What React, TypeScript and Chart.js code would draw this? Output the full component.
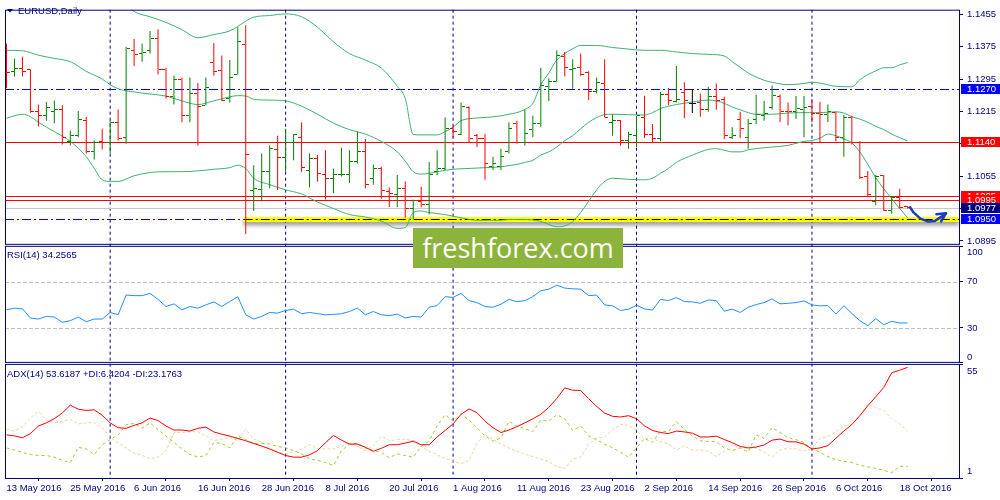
import React, { useEffect, useRef } from 'react';
import { Chart, registerables } from 'chart.js';

Chart.register(...registerables);

const NAVY = '#000080';
const FONT = '"Liberation Sans", Arial, sans-serif';
const UP = '#008000';
const DOWN = '#ff0000';
const BB = '#3cb371';

// ---------- price bars (EURUSD daily) ----------
const opens = [
  1.1375, 1.1314, 1.1322, 1.1318, 1.1216, 1.1204, 1.1214, 1.1219, 1.1141, 1.1155,
  1.1193, 1.1115, 1.1141, 1.1139, 1.1188, 1.1151, 1.1365, 1.1358, 1.1366, 1.1396,
  1.1318, 1.1253, 1.1293, 1.1206, 1.1259, 1.1230, 1.1336, 1.1316, 1.1247, 1.1306,
  1.1380, 1.1020, 1.1021, 1.1066, 1.1121, 1.1100, 1.1139, 1.1151, 1.1068, 1.1099,
  1.1059, 1.1050, 1.1058, 1.1060, 1.1090, 1.1116, 1.1048, 1.1074, 1.1017, 1.1009,
  1.1025, 1.0975, 1.0993, 1.0985, 1.1066, 1.1074, 1.1173, 1.1159, 1.1224, 1.1155,
  1.1149, 1.1078, 1.1078, 1.1115, 1.1184, 1.1137, 1.1170, 1.1184, 1.1277, 1.1289,
  1.1350, 1.1318, 1.1323, 1.1310, 1.1265, 1.1285, 1.1188, 1.1192, 1.1143, 1.1155,
  1.1200, 1.1159, 1.1147, 1.1257, 1.1239, 1.1262, 1.1235, 1.1237, 1.1219, 1.1251,
  1.1245, 1.1150, 1.1196, 1.1151, 1.1196, 1.1204, 1.1224, 1.1251, 1.1216, 1.1214,
  1.1220, 1.1228, 1.1211, 1.1208, 1.1212, 1.1151, 1.1200, 1.1139, 1.1055, 1.0993,
  1.1056, 1.0970, 1.1001, 1.0981,
];
const highs = [
  1.1383, 1.1346, 1.1350, 1.1319, 1.1232, 1.1238, 1.1242, 1.1230, 1.1167, 1.1216,
  1.1202, 1.1143, 1.1172, 1.1193, 1.1220, 1.1375, 1.1394, 1.1383, 1.1414, 1.1418,
  1.1323, 1.1304, 1.1299, 1.1299, 1.1285, 1.1299, 1.1384, 1.1353, 1.1342, 1.1423,
  1.1428, 1.1082, 1.1111, 1.1131, 1.1155, 1.1172, 1.1159, 1.1188, 1.1111, 1.1107,
  1.1119, 1.1074, 1.1125, 1.1119, 1.1165, 1.1147, 1.1084, 1.1078, 1.1027, 1.1058,
  1.1042, 1.0997, 1.1029, 1.1090, 1.1119, 1.1200, 1.1180, 1.1237, 1.1228, 1.1159,
  1.1159, 1.1103, 1.1123, 1.1188, 1.1192, 1.1220, 1.1204, 1.1323, 1.1297, 1.1366,
  1.1362, 1.1344, 1.1358, 1.1314, 1.1299, 1.1344, 1.1208, 1.1194, 1.1165, 1.1204,
  1.1254, 1.1184, 1.1263, 1.1273, 1.1327, 1.1287, 1.1269, 1.1259, 1.1276, 1.1284,
  1.1251, 1.1176, 1.1214, 1.1196, 1.1257, 1.1241, 1.1279, 1.1257, 1.1237, 1.1253,
  1.1253, 1.1245, 1.1238, 1.1232, 1.1214, 1.1206, 1.1204, 1.1141, 1.1068, 1.1058,
  1.1058, 1.1005, 1.1024, 1.0981,
];
const lows = [
  1.1273, 1.1301, 1.1301, 1.1212, 1.1178, 1.1192, 1.1186, 1.1133, 1.1131, 1.1151,
  1.1111, 1.1096, 1.1121, 1.1111, 1.1143, 1.1135, 1.1327, 1.1338, 1.1358, 1.1306,
  1.1247, 1.1232, 1.1188, 1.1188, 1.1131, 1.1230, 1.1303, 1.1241, 1.1237, 1.1306,
  1.0912, 1.0969, 1.0993, 1.1025, 1.1021, 1.1066, 1.1094, 1.1066, 1.1027, 1.1042,
  1.0997, 1.1013, 1.1054, 1.1038, 1.1086, 1.1025, 1.1034, 1.0999, 1.0979, 1.0978,
  1.0952, 1.0948, 1.0978, 1.0960, 1.1058, 1.1070, 1.1150, 1.1157, 1.1139, 1.1127,
  1.1046, 1.1070, 1.1070, 1.1111, 1.1135, 1.1131, 1.1151, 1.1176, 1.1241, 1.1287,
  1.1301, 1.1271, 1.1303, 1.1243, 1.1259, 1.1200, 1.1155, 1.1131, 1.1123, 1.1127,
  1.1149, 1.1139, 1.1141, 1.1230, 1.1237, 1.1198, 1.1211, 1.1202, 1.1214, 1.1219,
  1.1147, 1.1147, 1.1149, 1.1123, 1.1184, 1.1192, 1.1220, 1.1189, 1.1181, 1.1196,
  1.1151, 1.1188, 1.1139, 1.1189, 1.1141, 1.1103, 1.1133, 1.1048, 1.1003, 1.0983,
  1.0969, 1.0962, 1.0975, 1.0975,
];
const closes = [
  1.1310, 1.1322, 1.1314, 1.1216, 1.1204, 1.1224, 1.1220, 1.1150, 1.1155, 1.1194,
  1.1115, 1.1139, 1.1137, 1.1188, 1.1149, 1.1370, 1.1356, 1.1360, 1.1396, 1.1318,
  1.1253, 1.1293, 1.1206, 1.1259, 1.1227, 1.1275, 1.1314, 1.1241, 1.1300, 1.1387,
  1.1108, 1.1025, 1.1066, 1.1123, 1.1100, 1.1137, 1.1157, 1.1077, 1.1099, 1.1062,
  1.1050, 1.1059, 1.1060, 1.1090, 1.1116, 1.1035, 1.1074, 1.1019, 1.1011, 1.1025,
  1.0975, 1.0995, 1.0985, 1.1058, 1.1074, 1.1173, 1.1165, 1.1226, 1.1147, 1.1149,
  1.1086, 1.1086, 1.1103, 1.1173, 1.1137, 1.1161, 1.1184, 1.1279, 1.1289, 1.1354,
  1.1324, 1.1322, 1.1306, 1.1265, 1.1287, 1.1200, 1.1192, 1.1143, 1.1159, 1.1204,
  1.1159, 1.1147, 1.1257, 1.1241, 1.1245, 1.1241, 1.1235, 1.1220, 1.1251, 1.1243,
  1.1155, 1.1156, 1.1173, 1.1186, 1.1208, 1.1211, 1.1254, 1.1214, 1.1214, 1.1222,
  1.1224, 1.1211, 1.1208, 1.1214, 1.1151, 1.1200, 1.1139, 1.1051, 1.1010, 1.1054,
  1.0970, 1.1001, 1.0978, 1.0977,
];

// ---------- Bollinger bands (bar index, price) ----------
const bbUpper: [number, number][] = [
  [0, 1.1534], [2, 1.1522], [4, 1.1520], [6, 1.1527], [8, 1.1535], [10, 1.1525], [12, 1.1544],
  [13, 1.1520], [14, 1.1500], [16, 1.1462], [18, 1.1449], [20, 1.1435], [22, 1.1417], [24, 1.1397],
  [26, 1.1405], [28, 1.1414], [29, 1.1425], [30, 1.1438], [31, 1.1448], [33, 1.1452], [35, 1.1456],
  [37, 1.1449], [39, 1.1423], [41, 1.1387], [43, 1.1358], [45, 1.1342], [47, 1.1322], [49, 1.1277],
  [50, 1.1247], [51, 1.1158], [52, 1.1157], [54, 1.1157], [55, 1.1165], [56, 1.1176], [57, 1.1192],
  [58, 1.1197], [60, 1.1200], [62, 1.1204], [63, 1.1208], [64, 1.1212], [65, 1.1220], [66, 1.1235],
  [67, 1.1281], [68, 1.1310], [69, 1.1342], [70, 1.1358], [71, 1.1370], [72, 1.1378], [74, 1.1378],
  [76, 1.1373], [78, 1.1369], [80, 1.1366], [82, 1.1366], [84, 1.1362], [86, 1.1358], [88, 1.1356],
  [90, 1.1352], [91, 1.1338], [92, 1.1324], [93, 1.1310], [94, 1.1300], [95, 1.1292], [96, 1.1287],
  [98, 1.1281], [100, 1.1284], [101, 1.1287], [102, 1.1285], [104, 1.1277], [106, 1.1276],
  [107, 1.1293], [108, 1.1306], [109, 1.1315], [110, 1.1323], [111, 1.1323], [112, 1.1330], [113, 1.1336],
];
const bbMiddle: [number, number][] = [
  [0, 1.1366], [2, 1.1365], [4, 1.1354], [6, 1.1346], [8, 1.1338], [10, 1.1314], [12, 1.1295],
  [13, 1.1281], [14, 1.1271], [16, 1.1263], [18, 1.1258], [20, 1.1253], [22, 1.1241], [24, 1.1232],
  [26, 1.1241], [28, 1.1251], [29, 1.1254], [30, 1.1253], [31, 1.1245], [33, 1.1243], [35, 1.1241],
  [37, 1.1228], [39, 1.1208], [41, 1.1186], [43, 1.1170], [45, 1.1159], [47, 1.1141], [49, 1.1115],
  [50, 1.1092], [51, 1.1066], [52, 1.1060], [53, 1.1062], [54, 1.1066], [56, 1.1072], [58, 1.1074],
  [60, 1.1076], [62, 1.1078], [63, 1.1081], [64, 1.1084], [65, 1.1089], [66, 1.1094], [67, 1.1107],
  [68, 1.1115], [69, 1.1127], [70, 1.1143], [71, 1.1155], [72, 1.1172], [73, 1.1188], [74, 1.1200],
  [75, 1.1207], [76, 1.1208], [78, 1.1207], [80, 1.1206], [81, 1.1212], [82, 1.1222], [84, 1.1232],
  [86, 1.1238], [88, 1.1243], [89, 1.1241], [90, 1.1235], [91, 1.1226], [92, 1.1219], [93, 1.1212],
  [94, 1.1208], [96, 1.1208], [98, 1.1211], [100, 1.1212], [102, 1.1212], [104, 1.1214], [105, 1.1211],
  [106, 1.1202], [107, 1.1196], [108, 1.1188], [109, 1.1178], [110, 1.1170], [111, 1.1159],
  [112, 1.1150], [113, 1.1142],
];
const bbLower: [number, number][] = [
  [0, 1.1198], [2, 1.1208], [3, 1.1202], [4, 1.1188], [6, 1.1165], [8, 1.1141], [10, 1.1103],
  [11, 1.1074], [12, 1.1046], [13, 1.1042], [14, 1.1042], [16, 1.1056], [18, 1.1064], [20, 1.1066],
  [22, 1.1066], [24, 1.1068], [26, 1.1072], [28, 1.1076], [29, 1.1082], [30, 1.1074], [31, 1.1050],
  [33, 1.1034], [35, 1.1021], [37, 1.1011], [39, 1.0991], [41, 1.0975], [43, 1.0960], [45, 1.0954],
  [47, 1.0944], [49, 1.0926], [50, 1.0928], [51, 1.0965], [52, 1.0969], [53, 1.0965], [55, 1.0960],
  [57, 1.0952], [59, 1.0946], [62, 1.0946], [63, 1.0948], [65, 1.0948], [67, 1.0943], [69, 1.0930],
  [70, 1.0932], [71, 1.0943], [72, 1.0965], [73, 1.0993], [74, 1.1021], [75, 1.1042], [76, 1.1050],
  [78, 1.1047], [80, 1.1046], [81, 1.1050], [82, 1.1062], [83, 1.1074], [84, 1.1089], [85, 1.1099],
  [86, 1.1107], [88, 1.1121], [89, 1.1123], [90, 1.1119], [91, 1.1115], [92, 1.1115], [93, 1.1120],
  [94, 1.1123], [96, 1.1127], [98, 1.1131], [100, 1.1141], [101, 1.1143], [102, 1.1149], [103, 1.1159],
  [104, 1.1155], [105, 1.1147], [106, 1.1137], [107, 1.1115], [108, 1.1084], [109, 1.1051],
  [110, 1.1024], [111, 1.0999], [112, 1.0975], [113, 1.0952],
];

// ---------- RSI(14) ----------
const rsi = [
  45.7, 47.1, 46.5, 38.6, 37.7, 40.0, 39.4, 34.9, 36.3, 39.4,
  35.4, 37.7, 37.7, 43.4, 41.4, 58.4, 57.9, 57.9, 59.8, 54.7,
  48.5, 50.8, 45.7, 48.5, 47.1, 49.9, 52.5, 48.5, 52.8, 57.0,
  41.4, 37.7, 40.0, 43.4, 42.8, 45.1, 46.2, 42.3, 43.4, 42.3,
  41.4, 41.7, 42.3, 44.2, 47.1, 41.4, 44.2, 41.4, 40.6, 42.0,
  38.6, 40.0, 39.4, 47.9, 49.3, 57.0, 56.4, 59.8, 53.6, 51.9,
  48.5, 47.9, 50.5, 54.7, 52.7, 53.6, 57.0, 62.1, 63.5, 66.9,
  64.4, 63.8, 63.5, 57.9, 58.4, 49.9, 49.1, 45.1, 46.2, 49.6,
  46.5, 45.4, 54.7, 53.6, 56.2, 52.8, 52.5, 51.3, 54.2, 53.6,
  44.5, 46.2, 43.4, 47.9, 50.2, 51.9, 55.0, 50.8, 51.3, 51.9,
  53.3, 49.9, 49.1, 49.3, 42.0, 49.1, 42.5, 36.3, 32.0, 38.0,
  32.9, 35.7, 34.3, 34.3,
];

// ---------- ADX(14) ----------
const adx = [
  21.5, 21.0, 20.1, 22.1, 25.7, 27.2, 29.2, 31.9, 35.6, 33.7,
  33.1, 33.4, 30.8, 27.2, 24.9, 24.6, 26.0, 27.2, 29.5, 28.3,
  25.7, 23.8, 23.8, 23.3, 24.6, 25.2, 22.9, 21.8, 20.9, 19.8,
  18.7, 17.4, 16.2, 14.8, 13.2, 11.7, 10.9, 10.9, 12.0, 14.0,
  17.8, 21.2, 19.0, 17.1, 17.1, 15.6, 13.7, 15.1, 16.8, 16.8,
  17.6, 18.5, 16.8, 16.8, 20.5, 23.6, 26.7, 31.3, 33.8, 32.0,
  28.0, 24.9, 22.6, 23.8, 25.4, 27.2, 29.1, 31.3, 34.5, 38.8,
  43.8, 42.7, 42.6, 38.7, 35.0, 31.9, 30.3, 30.0, 30.6, 29.2,
  25.8, 23.6, 22.6, 22.1, 23.3, 22.9, 22.3, 20.5, 20.5, 20.9,
  19.3, 17.8, 16.0, 15.3, 15.7, 16.7, 19.0, 19.5, 18.2, 18.2,
  17.1, 14.8, 15.3, 16.4, 19.9, 23.3, 26.4, 30.6, 35.3, 39.6,
  44.0, 51.0, 52.2, 53.6,
];
const plusDI = [
  15.3, 14.3, 13.1, 12.2, 11.7, 11.7, 10.9, 9.4, 8.3, 15.6,
  14.8, 12.2, 16.8, 19.3, 21.5, 26.4, 26.9, 24.6, 27.2, 24.0,
  21.0, 17.9, 14.8, 12.2, 10.9, 11.7, 17.9, 17.4, 15.3, 21.0,
  19.3, 17.3, 17.6, 17.1, 16.0, 15.3, 14.0, 12.5, 10.1, 9.4,
  8.3, 6.9, 14.0, 17.1, 17.6, 15.3, 14.0, 13.1, 10.6, 12.5,
  11.7, 10.8, 16.0, 18.7, 25.7, 31.1, 28.0, 31.5, 28.5, 24.9,
  21.0, 18.5, 20.0, 28.0, 25.5, 24.5, 23.0, 28.5, 28.0, 31.1,
  29.2, 23.6, 25.7, 21.0, 19.2, 17.1, 15.3, 13.3, 10.9, 15.3,
  19.8, 17.9, 23.3, 23.0, 27.7, 24.1, 21.0, 18.7, 18.4, 18.4,
  15.3, 14.0, 15.3, 13.3, 21.5, 19.9, 24.9, 22.6, 20.2, 19.2,
  17.9, 14.8, 13.3, 11.2, 9.7, 8.9, 8.4, 7.0, 6.3, 5.5,
  4.7, 3.5, 6.6, 6.4,
];
const minusDI = [
  24.1, 23.3, 25.5, 29.5, 32.6, 28.6, 27.2, 28.0, 28.8, 26.7,
  27.2, 27.4, 24.9, 20.5, 17.6, 15.3, 12.8, 11.7, 10.2, 10.9,
  14.0, 22.6, 22.6, 23.0, 23.0, 21.0, 18.7, 19.5, 20.2, 18.7,
  24.1, 19.5, 18.1, 15.3, 13.3, 12.5, 13.3, 14.8, 16.8, 15.1,
  14.8, 14.8, 15.9, 17.9, 15.9, 14.0, 16.4, 20.9, 18.7, 19.2,
  19.5, 18.7, 15.9, 13.7, 12.0, 10.2, 9.1, 7.8, 9.4, 17.5,
  21.6, 19.5, 17.2, 15.3, 13.8, 12.3, 11.2, 10.0, 8.8, 6.5,
  5.5, 10.0, 10.9, 17.1, 19.9, 20.5, 24.0, 26.4, 26.1, 23.6,
  19.9, 19.6, 18.4, 17.1, 14.3, 16.2, 14.3, 14.3, 13.7, 11.2,
  13.7, 16.8, 15.3, 15.3, 15.3, 13.3, 10.9, 14.3, 15.3, 14.8,
  14.0, 14.8, 19.9, 20.7, 23.0, 25.8, 26.4, 30.8, 36.1, 34.5,
  33.0, 29.2, 26.7, 23.2,
];

// ---------- axes / annotations ----------
const dateTickIdx = [0, 8, 16, 24, 32, 40, 48, 56, 64, 72, 80, 88, 96, 104, 112];
const dateLabels = [
  '13 May 2016', '25 May 2016', '6 Jun 2016', '16 Jun 2016', '28 Jun 2016', '8 Jul 2016',
  '20 Jul 2016', '1 Aug 2016', '11 Aug 2016', '23 Aug 2016', '2 Sep 2016', '14 Sep 2016',
  '26 Sep 2016', '6 Oct 2016', '18 Oct 2016',
];
const monthSepIdx = [13, 35, 56, 79, 101];
const priceTicks = [1.1455, 1.1375, 1.1295, 1.1215, 1.1135, 1.1055, 1.0975, 1.0895];
const rsiTicks = [100, 70, 30, 0];
const rsiLevels = [70, 30];
const adxTicks = [55, 1];
const redLevels = [1.114, 1.1005, 1.0995];
const blueLevels = [1.127];
const bidPrice = 1.0977;
const supportLevel = 1.095;
const supportHighlightFrom = 30;
const tagValues = [1.127, 1.114, 1.1005, 1.0995, 1.0977, 1.095];
const tagColors = ['#0000ff', '#ff0000', '#ff0000', '#ff0000', '#000080', '#0000ff'];
const arrowIdx = [113.3, 113.7, 114.6, 115.5, 116.4, 117.1, 117.8];
const arrowPrice = [1.0978, 1.0966, 1.0950, 1.0943, 1.0944, 1.0953, 1.0963];
const arrowHeadIdx = [116.6, 117.8, 117.2];
const arrowHeadPrice = [1.0961, 1.0963, 1.0943];

const barColor = (i: number) =>
  closes[i] > opens[i] ? UP : closes[i] < opens[i] ? DOWN : '#000000';

function makeTick(color: string, left: boolean) {
  const c = document.createElement('canvas');
  c.width = 7;
  c.height = 1;
  const g = c.getContext('2d')!;
  g.fillStyle = color;
  g.fillRect(left ? 0 : 4, 0, 3, 1);
  return c;
}

export default function App() {
  const ref = useRef<HTMLCanvasElement | null>(null);

  useEffect(() => {
    const canvas = ref.current;
    if (!canvas) return;
    const tickImgs: Record<string, { L: HTMLCanvasElement; R: HTMLCanvasElement }> = {};
    [UP, DOWN, '#000000'].forEach((c) => {
      tickImgs[c] = { L: makeTick(c, true), R: makeTick(c, false) };
    });

    const font = { family: FONT, size: 9.5 };

    const overlay = {
      id: 'overlay',
      beforeDraw(chart: any) {
        const { ctx, width, height } = chart;
        ctx.save();
        ctx.fillStyle = '#ffffff';
        ctx.fillRect(0, 0, width, height);
        ctx.restore();
      },
      beforeDatasetsDraw(chart: any) {
        const ctx = chart.ctx as CanvasRenderingContext2D;
        const xs = chart.scales.x;
        const ys = chart.scales.y;
        const rs = chart.scales.yRsi;
        const area = chart.chartArea;
        const L = area.left;
        const R = area.right;
        const hline = (py: number, x0: number, x1: number) => {
          ctx.beginPath();
          ctx.moveTo(x0, py);
          ctx.lineTo(x1, py);
          ctx.stroke();
        };
        const snap = (v: number) => Math.round(v) + 0.5;
        ctx.save();
        ctx.lineWidth = 1;
        // month separators
        ctx.strokeStyle = NAVY;
        ctx.setLineDash([3, 3]);
        monthSepIdx.forEach((i) => {
          const px = xs.getPixelForValue(i);
          ctx.beginPath();
          ctx.moveTo(px, area.top);
          ctx.lineTo(px, area.bottom);
          ctx.stroke();
        });
        // RSI levels
        ctx.strokeStyle = '#c0c0c0';
        ctx.setLineDash([4, 2]);
        rsiLevels.forEach((v) => hline(snap(rs.getPixelForValue(v)), L, R));
        // bid line
        ctx.setLineDash([]);
        ctx.strokeStyle = '#c8c8c8';
        hline(snap(ys.getPixelForValue(bidPrice)), L, R);
        // red levels
        ctx.strokeStyle = '#ff0000';
        redLevels.forEach((v) => hline(snap(ys.getPixelForValue(v)), L, R));
        // blue dash-dot levels
        ctx.strokeStyle = '#0000ff';
        ctx.setLineDash([9, 3, 2, 3]);
        blueLevels.forEach((v) => hline(snap(ys.getPixelForValue(v)), L, R));
        const sy = snap(ys.getPixelForValue(supportLevel));
        const sx = xs.getPixelForValue(supportHighlightFrom) - 2;
        hline(sy, L, sx);
        // yellow highlight with shadow
        ctx.save();
        ctx.shadowColor = 'rgba(0,0,0,0.45)';
        ctx.shadowBlur = 4;
        ctx.shadowOffsetY = 3;
        ctx.fillStyle = '#ffff00';
        ctx.fillRect(sx, sy - 2.5, R - sx, 5);
        ctx.restore();
        ctx.strokeStyle = '#000000';
        ctx.setLineDash([9, 3, 2, 3]);
        hline(sy, sx, R);
        ctx.restore();
        ctx.imageSmoothingEnabled = false;
      },
      afterDatasetsDraw(chart: any) {
        const ctx = chart.ctx as CanvasRenderingContext2D;
        const area = chart.chartArea;
        const panes = [chart.scales.y, chart.scales.yRsi, chart.scales.yAdx];
        ctx.save();
        ctx.strokeStyle = NAVY;
        ctx.lineWidth = 1;
        ctx.setLineDash([]);
        panes.forEach((s: any, k: number) => {
          const top = s.top + 0.5;
          const bottom = k === panes.length - 1 ? s.bottom + 0.5 : s.bottom - 1.5;
          ctx.strokeRect(area.left + 0.5, top, area.right - area.left, bottom - top);
        });
        ctx.restore();
      },
      afterDraw(chart: any) {
        const ctx = chart.ctx as CanvasRenderingContext2D;
        const xs = chart.scales.x;
        const ys = chart.scales.y;
        const rs = chart.scales.yRsi;
        const as = chart.scales.yAdx;
        ctx.save();
        ctx.imageSmoothingEnabled = true;
        ctx.font = `9.5px ${FONT}`;
        ctx.textBaseline = 'middle';
        ctx.textAlign = 'left';
        const labelX = ys.left + 8;
        // clamped end labels of indicator axes
        const endLabel = (s: any, v: number) => {
          const p = s.getPixelForValue(v);
          const py = Math.min(Math.max(p, s.top + 7), s.bottom - 7);
          ctx.fillStyle = NAVY;
          ctx.fillText(String(v), labelX, py);
        };
        endLabel(rs, 100);
        endLabel(rs, 0);
        adxTicks.forEach((v) => endLabel(as, v));
        // price tags
        tagValues.forEach((v, k) => {
          const py = Math.round(ys.getPixelForValue(v));
          ctx.fillStyle = tagColors[k];
          ctx.fillRect(ys.left + 2, py - 5, chart.width - ys.left - 2, 10);
          ctx.fillStyle = '#ffffff';
          ctx.fillText(v.toFixed(4), labelX, py + 0.5);
        });
        // pane titles
        ctx.fillStyle = NAVY;
        ctx.beginPath();
        ctx.moveTo(7, 9);
        ctx.lineTo(13, 9);
        ctx.lineTo(10, 12.5);
        ctx.closePath();
        ctx.fill();
        ctx.fillText('EURUSD,Daily', 18, 11);
        ctx.fillText('RSI(14) 34.2565', 7, rs.top + 10);
        ctx.fillText('ADX(14) 53.6187 +DI:6.4204 -DI:23.1763', 7, as.top + 10);
        // hand-drawn arrow
        ctx.strokeStyle = '#1c3cc6';
        ctx.lineWidth = 2.5;
        ctx.lineCap = 'round';
        ctx.lineJoin = 'round';
        ctx.beginPath();
        arrowIdx.forEach((ix, k) => {
          const px = xs.getPixelForValue(ix);
          const py = ys.getPixelForValue(arrowPrice[k]);
          if (k === 0) ctx.moveTo(px, py);
          else ctx.lineTo(px, py);
        });
        ctx.stroke();
        ctx.beginPath();
        ctx.moveTo(xs.getPixelForValue(arrowHeadIdx[0]), ys.getPixelForValue(arrowHeadPrice[0]));
        ctx.lineTo(xs.getPixelForValue(arrowHeadIdx[1]), ys.getPixelForValue(arrowHeadPrice[1]));
        ctx.lineTo(xs.getPixelForValue(arrowHeadIdx[2]), ys.getPixelForValue(arrowHeadPrice[2]));
        ctx.stroke();
        ctx.restore();
      },
    };

    const yCommon = (weight: number, stackWeight: number) => ({
      type: 'linear' as const,
      position: 'right' as const,
      stack: 'panes',
      stackWeight,
      weight,
      afterFit: (s: any) => {
        s.width = 41;
      },
      grid: {
        display: true,
        drawOnChartArea: false,
        drawTicks: true,
        tickLength: 4,
        tickColor: NAVY,
        color: NAVY,
      },
      border: { display: false },
    });

    const chart = new Chart(canvas, {
      type: 'line',
      data: {
        datasets: [
          {
            type: 'bar',
            data: highs.map((h, i) => ({ x: i, y: [lows[i], h] })) as any,
            backgroundColor: highs.map((_, i) => barColor(i)),
            barThickness: 1,
            inflateAmount: 0,
            borderWidth: 0,
            grouped: false,
            xAxisID: 'x',
            yAxisID: 'y',
            order: 0,
          } as any,
          {
            type: 'scatter',
            data: opens.map((o, i) => ({ x: i, y: o })),
            pointStyle: (c: any) => tickImgs[barColor(c.dataIndex)].L,
            pointRadius: 3,
            xAxisID: 'x',
            yAxisID: 'y',
            order: 0,
          } as any,
          {
            type: 'scatter',
            data: closes.map((o, i) => ({ x: i, y: o })),
            pointStyle: (c: any) => tickImgs[barColor(c.dataIndex)].R,
            pointRadius: 3,
            xAxisID: 'x',
            yAxisID: 'y',
            order: 0,
          } as any,
          ...[bbUpper, bbMiddle, bbLower].map((band) => ({
            type: 'line',
            data: band.map(([x, y]) => ({ x, y })),
            borderColor: BB,
            borderWidth: 1,
            pointRadius: 0,
            cubicInterpolationMode: 'monotone',
            xAxisID: 'x',
            yAxisID: 'y',
            order: 1,
          })) as any[],
          {
            type: 'line',
            data: rsi.map((v, i) => ({ x: i, y: v })),
            borderColor: '#1e90ff',
            borderWidth: 1,
            pointRadius: 0,
            xAxisID: 'x',
            yAxisID: 'yRsi',
            order: 2,
          } as any,
          {
            type: 'line',
            data: adx.map((v, i) => ({ x: i, y: v })),
            borderColor: '#ff0000',
            borderWidth: 1,
            pointRadius: 0,
            xAxisID: 'x',
            yAxisID: 'yAdx',
            order: 2,
          } as any,
          {
            type: 'line',
            data: plusDI.map((v, i) => ({ x: i, y: v })),
            borderColor: '#9acd32',
            borderWidth: 1,
            borderDash: [3, 3],
            pointRadius: 0,
            xAxisID: 'x',
            yAxisID: 'yAdx',
            order: 3,
          } as any,
          {
            type: 'line',
            data: minusDI.map((v, i) => ({ x: i, y: v })),
            borderColor: '#f2d3a0',
            borderWidth: 1,
            borderDash: [3, 2],
            pointRadius: 0,
            xAxisID: 'x',
            yAxisID: 'yAdx',
            order: 4,
          } as any,
        ],
      },
      options: {
        responsive: false,
        animation: false,
        devicePixelRatio: 1,
        events: [],
        layout: { padding: { left: 2, top: 2, right: 0, bottom: 0 } },
        plugins: { legend: { display: false }, tooltip: { enabled: false } },
        scales: {
          x: {
            type: 'linear',
            position: 'bottom',
            min: -0.1875,
            max: 119.4375,
            offset: false,
            afterBuildTicks: (s: any) => {
              s.ticks = dateTickIdx.map((v) => ({ value: v }));
            },
            afterFit: (s: any) => {
              s.height = 22;
            },
            ticks: {
              autoSkip: false,
              maxRotation: 0,
              minRotation: 0,
              align: 'start',
              color: NAVY,
              font,
              padding: 2,
              callback: (_v: any, i: number) => dateLabels[i],
            },
            grid: { drawOnChartArea: false, drawTicks: true, tickLength: 3, tickColor: NAVY, color: NAVY },
            border: { display: false },
          } as any,
          y: {
            ...yCommon(1, 240),
            min: 1.08828,
            max: 1.14664,
            afterBuildTicks: (s: any) => {
              s.ticks = priceTicks.map((v) => ({ value: v }));
            },
            ticks: {
              autoSkip: false,
              color: NAVY,
              font,
              padding: 4,
              callback: (v: any) => Number(v).toFixed(4),
            },
          } as any,
          yRsi: {
            ...yCommon(2, 120),
            min: -1,
            max: 100.9,
            afterBuildTicks: (s: any) => {
              s.ticks = rsiTicks.map((v) => ({ value: v }));
            },
            ticks: {
              autoSkip: false,
              color: NAVY,
              font,
              padding: 4,
              callback: (v: any) => (rsiLevels.includes(Number(v)) ? String(v) : ''),
            },
          } as any,
          yAdx: {
            ...yCommon(3, 116),
            min: 1,
            max: 55.23,
            afterBuildTicks: (s: any) => {
              s.ticks = adxTicks.map((v) => ({ value: v }));
            },
            ticks: { autoSkip: false, color: NAVY, font, padding: 4, callback: () => '' },
          } as any,
        },
      },
      plugins: [overlay],
    });

    return () => chart.destroy();
  }, []);

  return (
    <div style={{ position: 'fixed', left: 0, top: 0, width: 1000, height: 500, background: '#fff' }}>
      <canvas ref={ref} width={1000} height={500} style={{ display: 'block' }} />
      <div
        style={{
          position: 'absolute',
          left: 413,
          top: 228,
          width: 210,
          height: 40,
          background: '#8cb43c',
          color: '#ffffff',
          fontFamily: '"Open Sans", sans-serif',
          fontSize: 27,
          lineHeight: '40px',
          textAlign: 'center',
        }}
      >
        freshforex.com
      </div>
    </div>
  );
}
